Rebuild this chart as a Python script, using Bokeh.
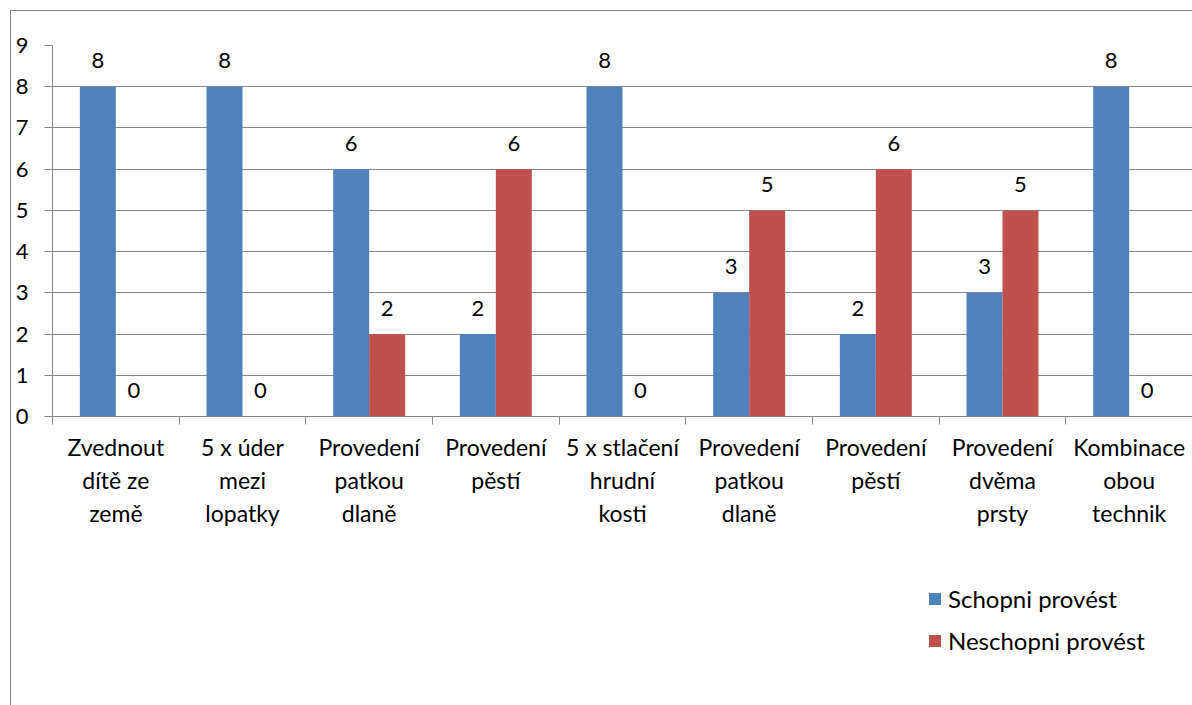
from bokeh.plotting import figure
from bokeh.models import Range1d, FixedTicker, LinearAxis, ColumnDataSource, Legend, LegendItem
from bokeh.core.properties import value
from bokeh.embed import file_html
from bokeh.resources import INLINE

categories = ["Zvednout\ndítě ze\nzemě", "5 x úder\nmezi\nlopatky", "Provedení\npatkou\ndlaně",
              "Provedení\npěstí", "5 x stlačení\nhrudní\nkosti", "Provedení\npatkou\ndlaně",
              "Provedení\npěstí", "Provedení\ndvěma\nprsty", "Kombinace\nobou\ntechnik"]
schopni = [8, 8, 6, 2, 8, 3, 2, 3, 8]
neschopni = [0, 0, 2, 6, 0, 5, 6, 5, 0]
y_ticks = [0, 1, 2, 3, 4, 5, 6, 7, 8, 9]
series_names = ["Schopni provést", "Neschopni provést"]

BLUE = "#4F81BD"
RED = "#C0504D"
GRAY = "#868686"
FONT = "Lato"
FS = "22px"

centers = [i + 0.5 for i in range(len(categories))]
bounds = list(range(len(categories) + 1))
off = 0.142
bw = 0.284

# layout: frame spans the whole lower area; value axis occupies 371px of 660px
FRAME_H = 660
AXIS_PX = 371
y_max = 9
y_min = -(FRAME_H - AXIS_PX) * y_max / AXIS_PX
tick_ext = 8 * y_max / AXIS_PX  # y axis line runs one tick length below zero

src_a = ColumnDataSource(dict(x=[c - off for c in centers], top=schopni, lab=[str(v) for v in schopni]))
src_b = ColumnDataSource(dict(x=[c + off for c in centers], top=neschopni, lab=[str(v) for v in neschopni]))

p = figure(frame_width=1140, frame_height=FRAME_H, x_range=Range1d(0, len(categories)),
           y_range=Range1d(y_min, y_max),
           output_backend="svg", toolbar_location=None, x_axis_location=None,
           min_border_left=41, min_border_top=34, min_border_right=0, min_border_bottom=0)
p.outline_line_color = None
p.background_fill_color = "white"
p.border_fill_color = "white"
p.margin = (10, 0, 0, 10)
p.styles = {"border-top": "1px solid #898989", "border-left": "1px solid #898989"}

p.yaxis.ticker = FixedTicker(ticks=y_ticks)
p.yaxis.bounds = (-tick_ext, y_max)
p.yaxis.axis_line_color = GRAY
p.yaxis.major_tick_line_color = GRAY
p.yaxis.major_tick_in = 0
p.yaxis.major_tick_out = 8
p.yaxis.minor_tick_line_color = None
p.yaxis.major_label_text_font = FONT
p.yaxis.major_label_text_font_size = FS
p.yaxis.major_label_text_color = "black"
p.yaxis.major_label_standoff = 16
p.ygrid.ticker = FixedTicker(ticks=y_ticks)
p.ygrid.grid_line_color = GRAY
p.xgrid.grid_line_color = None

xax = LinearAxis(ticker=FixedTicker(ticks=centers, minor_ticks=bounds), fixed_location=0,
                 major_label_overrides={c: lab for c, lab in zip(centers, categories)},
                 axis_line_color=GRAY, major_tick_line_color=None, major_tick_in=0, major_tick_out=0,
                 minor_tick_line_color=GRAY, minor_tick_in=0, minor_tick_out=8,
                 major_label_text_font=FONT, major_label_text_font_size="23px", major_label_text_color="black",
                 major_label_text_line_height=1.19, major_label_standoff=8)
p.add_layout(xax, "below")

r1 = p.vbar(x="x", top="top", width=bw, source=src_a, fill_color=BLUE, line_color=None)
r2 = p.vbar(x="x", top="top", width=bw, source=src_b, fill_color=RED, line_color=None)

for s in (src_a, src_b):
    p.text(x="x", y="top", text="lab", source=s, text_align="center", text_baseline="middle",
           y_offset=-26, text_font=value(FONT), text_font_size=FS, text_color="black")

legend = Legend(items=[LegendItem(label=series_names[0], renderers=[r1]),
                       LegendItem(label=series_names[1], renderers=[r2])],
                location=(875, 50), border_line_color=None, background_fill_alpha=0,
                padding=0, margin=0, glyph_width=15, glyph_height=15, label_standoff=6,
                label_height=26, spacing=13, label_text_font=FONT, label_text_font_size="24px",
                label_text_color="black")
p.add_layout(legend, "center")

open("out.html", "w").write(file_html(p, INLINE))
